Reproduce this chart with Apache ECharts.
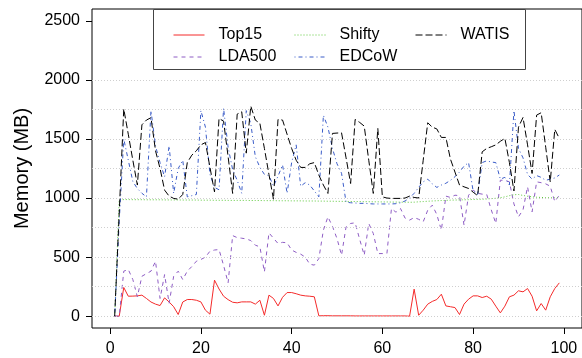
<!DOCTYPE html>
<html><head><meta charset="utf-8">
<script src="https://cdn.jsdelivr.net/npm/echarts@6/dist/echarts.min.js"></script>
<style>html,body{margin:0;padding:0;background:#fff}#c{width:582px;height:358px}</style>
</head><body><div id="c"></div>
<script>
const seriesNames = ['Top15', 'LDA500', 'Shifty', 'EDCoW', 'WATIS'];
const top15 = [0,0,243,169,170,172,178,150,120,102,
  90,155,120,80,14,120,141,141,135,121,
  51,17,305,230,169,140,118,113,121,121,
  121,102,135,8,178,150,87,160,200,200,
  190,178,172,169,164,3,4,4,3,3,
  3,3,3,2,2,2,2,2,2,2,
  2,2,2,2,2,0,229,8,51,102,
  125,141,186,87,80,73,14,102,144,172,
  172,158,169,144,85,28,85,164,178,215,
  206,234,169,45,107,51,164,234,282];
const lda500 = [0,0,381,395,310,165,338,360,381,465,
  150,352,110,338,381,310,381,420,465,480,
  500,550,560,564,430,282,682,665,660,654,
  640,601,587,375,705,660,615,625,621,560,
  540,525,500,440,432,488,728,841,760,657,
  516,756,785,790,650,516,785,700,530,530,
  530,911,880,911,830,813,835,820,799,897,
  940,860,728,1016,1005,1024,1020,770,1024,1067,
  1040,1033,1030,900,785,1151,1150,1137,950,841,
  900,1095,883,1137,1130,1120,1100,970,1024];
const shifty = [0,985,987,987,986,986,986,985,985,985,
  985,984,984,984,984,983,983,983,983,982,
  982,982,981,981,981,980,980,980,980,980,
  979,979,979,978,978,978,977,977,977,976,
  976,976,975,975,975,974,974,973,973,972,
  972,971,971,970,970,969,969,968,968,967,
  967,966,966,965,965,964,965,968,970,973,
  975,977,979,980,982,983,984,985,986,988,
  989,990,992,995,998,1003,1010,1020,1028,1030,
  1022,1015,1010,1007,1005,1003,1002,1001,1000];
const edcow = [0,800,1500,1320,1140,1080,1040,1010,1740,1440,
  1300,1180,1440,1040,1250,1320,1010,1020,1030,1740,
  1600,1200,1090,1070,1760,1430,1240,1150,1040,1740,
  1630,1350,1260,1200,1190,1100,1185,1280,1040,1300,
  1450,1100,1130,1110,1060,1010,1700,1600,1420,1290,
  1210,965,960,958,955,955,952,950,950,950,
  950,950,952,960,975,1000,1040,1090,1137,1160,
  1120,1090,1110,1125,1150,1180,1220,1270,1300,1060,
  1030,1300,1315,1305,1300,1160,1175,1110,1740,1420,
  1340,1200,1160,1190,1175,1150,1160,1170,1195];
const watis = [0,875,1754,1540,1320,1110,1620,1660,1680,1400,
  1250,1067,1016,997,990,1030,1300,1363,1400,1450,
  1470,1260,1052,1674,1650,1350,1039,1710,1730,1380,
  1778,1660,1632,1420,1200,990,1665,1660,1540,1420,
  1320,1259,1259,1290,1300,1194,1110,1039,1547,1550,
  1552,1340,1123,1665,1640,1609,1320,1039,1589,1010,
  1000,997,997,997,1000,1016,1005,1000,1320,1637,
  1600,1585,1513,1513,1330,1220,1110,1095,1081,1050,
  1020,1391,1420,1434,1450,1480,1505,1300,1060,1600,
  1682,1450,1208,1702,1722,1430,1137,1581,1505];
const xTicks = [0, 20, 40, 60, 80, 100];
const yTicks = [0, 500, 1000, 1500, 2000, 2500];
const gridValues = [0, 250, 500, 750, 1000, 1250, 1500, 1750, 2000];
const yTitle = 'Memory (MB)';

const font = '"Liberation Sans", Arial, sans-serif';
const pairs = arr => arr.map((v, i) => [i + 1, v]);
const styles = [
  { color: '#F42A2A', type: 'solid' },
  { color: '#8E5DC4', type: [4, 4] },
  { color: '#5CC83A', type: [1, 2] },
  { color: '#3A5CC8', type: [1, 3, 4, 3] },
  { color: '#000000', type: [7, 3] }
];
const dataSets = [top15, lda500, shifty, edcow, watis];

const series = [{
  name: '_grid', type: 'line', data: [], silent: true,
  markLine: {
    silent: true, symbol: ['none', 'none'], label: { show: false },
    lineStyle: { color: '#cfcfcf', type: [1, 2], width: 1 },
    emphasis: { disabled: true },
    data: gridValues.map(v => ({ yAxis: v }))
  }
}];
seriesNames.forEach((n, k) => {
  series.push({
    name: n, type: 'line', data: pairs(dataSets[k]), symbol: 'none',
    lineStyle: { color: styles[k].color, type: styles[k].type, width: 1 },
    itemStyle: { color: styles[k].color },
    emphasis: { disabled: true }, z: 2 + k
  });
});

const legendCommon = {
  orient: 'vertical', top: 22, itemWidth: 31, itemHeight: 14, itemGap: 6,
  selectedMode: false, z: 10,
  itemStyle: { opacity: 0 },
  lineStyle: { opacity: 1, width: 1 },
  textStyle: { fontSize: 16, color: '#000', fontFamily: font, padding: [0, 0, 0, 9] }
};

const chart = echarts.init(document.getElementById('c'));
chart.setOption({
  animation: false,
  grid: { left: 92, top: 9, right: -4, bottom: 30, show: true, borderColor: '#000', borderWidth: 1 },
  xAxis: {
    type: 'value', min: -4, max: 104,
    axisLine: { show: false, onZero: false }, splitLine: { show: false },
    axisTick: { show: true, length: 6, customValues: xTicks, lineStyle: { color: '#000' } },
    axisLabel: { customValues: xTicks, margin: 13, fontSize: 16, color: '#000', fontFamily: font }
  },
  yAxis: {
    type: 'value', min: -100, max: 2600,
    name: yTitle, nameLocation: 'middle', nameGap: 60,
    nameTextStyle: { fontSize: 20, color: '#000', fontFamily: font },
    axisLine: { show: false, onZero: false }, splitLine: { show: false },
    axisTick: { show: true, length: 6, customValues: yTicks, lineStyle: { color: '#000' } },
    axisLabel: { customValues: yTicks, margin: 12, fontSize: 16, color: '#000', fontFamily: font,
      formatter: v => String(v) }
  },
  legend: [
    Object.assign({}, legendCommon, { left: 168, data: [seriesNames[0], seriesNames[1]] }),
    Object.assign({}, legendCommon, { left: 289, data: [seriesNames[2], seriesNames[3]] }),
    Object.assign({}, legendCommon, { left: 410, data: [seriesNames[4]] })
  ],
  graphic: [{
    type: 'rect', z: 9,
    shape: { x: 153.5, y: 9.5, width: 372, height: 60 },
    style: { fill: '#fff', stroke: '#444', lineWidth: 1 }
  }],
  series: series
});
</script></body></html>
